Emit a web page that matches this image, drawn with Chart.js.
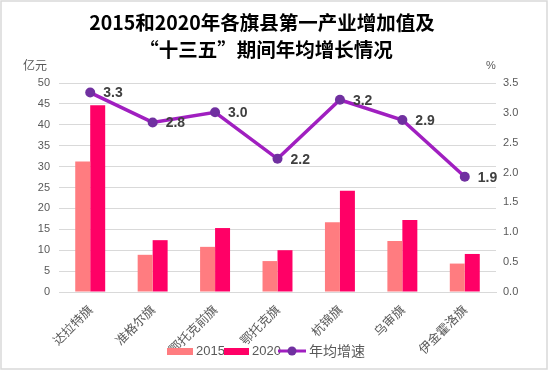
<!DOCTYPE html>
<html><head><meta charset="utf-8">
<script src="https://cdn.jsdelivr.net/npm/chart.js@4.4.1/dist/chart.umd.min.js"></script>
<style>html,body{margin:0;padding:0;background:#fff;}canvas{display:block;}</style>
</head><body>
<canvas id="c" width="548" height="371"></canvas>
<script>
const titleLines = ["2015和2020年各旗县第一产业增加值及", "“十三五”期间年均增长情况"];
const categories = ["达拉特旗", "准格尔旗", "鄂托克前旗", "鄂托克旗", "杭锦旗", "乌审旗", "伊金霍洛旗"];
const values2015 = [31.2, 8.9, 10.8, 7.4, 16.7, 12.2, 6.8];
const values2020 = [44.7, 12.4, 15.3, 10.0, 24.2, 17.2, 9.1];
const growthRate = [3.34, 2.84, 3.01, 2.23, 3.22, 2.88, 1.93];
const growthLabels = ["3.3", "2.8", "3.0", "2.2", "3.2", "2.9", "1.9"];
const seriesNames = ["2015", "2020", "年均增速"];
const leftUnit = "亿元";
const rightUnit = "%";

const CJK = "'Noto Sans CJK SC', 'Liberation Sans', sans-serif";
const NUM = "'Liberation Sans', 'Noto Sans CJK SC', sans-serif";
const C2015 = "#FF7C80", C2020 = "#FF0066", CLINE = "#A01FC0", CPT = "#7030A0";

const extras = {
  id: "extras",
  afterDraw(chart) {
    const ctx = chart.ctx;
    ctx.save();
    ctx.strokeStyle = "#D9D9D9"; ctx.lineWidth = 1.5;
    ctx.strokeRect(1, 1, 546, 368);
    ctx.fillStyle = "#000"; ctx.textAlign = "center"; ctx.textBaseline = "middle";
    ctx.font = "bold 19.5px " + CJK;
    ctx.fillText(titleLines[0], 262, 23);
    ctx.fillText(titleLines[1], 266, 50);
    ctx.fillStyle = "#595959"; ctx.font = "12px " + CJK;
    ctx.textAlign = "left";
    ctx.fillText(leftUnit, 23, 65);
    ctx.font = "11px " + NUM;
    ctx.fillText(rightUnit, 486, 66);
    const meta = chart.getDatasetMeta(2);
    ctx.font = "bold 14px " + NUM; ctx.fillStyle = "#404040";
    ctx.textAlign = "left"; ctx.textBaseline = "middle";
    meta.data.forEach((pt, i) => { ctx.fillText(growthLabels[i], pt.x + 13, pt.y + 1); });
    const ly = 351;
    ctx.font = "13px " + NUM; ctx.textBaseline = "middle";
    ctx.fillStyle = C2015; ctx.fillRect(167, ly - 3, 26, 7);
    ctx.fillStyle = "#595959"; ctx.fillText(seriesNames[0], 196, ly);
    ctx.fillStyle = C2020; ctx.fillRect(224, ly - 3, 25, 7);
    ctx.fillStyle = "#595959"; ctx.fillText(seriesNames[1], 252, ly);
    ctx.strokeStyle = CLINE; ctx.lineWidth = 3;
    ctx.beginPath(); ctx.moveTo(278, ly); ctx.lineTo(306, ly); ctx.stroke();
    ctx.fillStyle = CPT; ctx.beginPath(); ctx.arc(292, ly, 4.5, 0, Math.PI * 2); ctx.fill();
    ctx.fillStyle = "#595959"; ctx.font = "14px " + CJK; ctx.fillText(seriesNames[2], 309, ly);
    ctx.restore();
  }
};

new Chart(document.getElementById("c"), {
  data: {
    labels: categories,
    datasets: [
      { type: "bar", label: seriesNames[0], data: values2015, backgroundColor: C2015, yAxisID: "y", order: 2, barPercentage: 1, categoryPercentage: 0.48 },
      { type: "bar", label: seriesNames[1], data: values2020, backgroundColor: C2020, yAxisID: "y", order: 2, barPercentage: 1, categoryPercentage: 0.48 },
      { type: "line", label: seriesNames[2], data: growthRate, borderColor: CLINE, borderWidth: 3.5, pointRadius: 5, pointBackgroundColor: CPT, pointBorderColor: CPT, pointBorderWidth: 0, yAxisID: "y1", order: 0, tension: 0 }
    ]
  },
  options: {
    responsive: false,
    animation: false,
    layout: { padding: { top: 83, left: 0, right: 0, bottom: 0 } },
    plugins: { legend: { display: false }, title: { display: false }, tooltip: { enabled: false } },
    scales: {
      x: {
        grid: { display: false, drawTicks: false },
        border: { display: true, color: "#D9D9D9", width: 1 },
        ticks: { color: "#595959", font: { size: 12.5, family: CJK }, maxRotation: 45, minRotation: 45, padding: 10 },
        afterFit(s) { s.height = 79; }
      },
      y: {
        position: "left", min: 0, max: 50,
        ticks: { stepSize: 5, color: "#595959", font: { size: 11, family: NUM }, padding: 9 },
        grid: { color: "#D9D9D9", drawTicks: false },
        border: { display: false },
        afterFit(s) { s.width = 59; }
      },
      y1: {
        position: "right", min: 0, max: 3.5,
        ticks: { stepSize: 0.5, color: "#595959", font: { size: 11, family: NUM }, padding: 7, callback: v => v.toFixed(1) },
        grid: { display: false, drawTicks: false },
        border: { display: false },
        afterFit(s) { s.width = 52; }
      }
    }
  },
  plugins: [extras]
});
</script>
</body></html>
